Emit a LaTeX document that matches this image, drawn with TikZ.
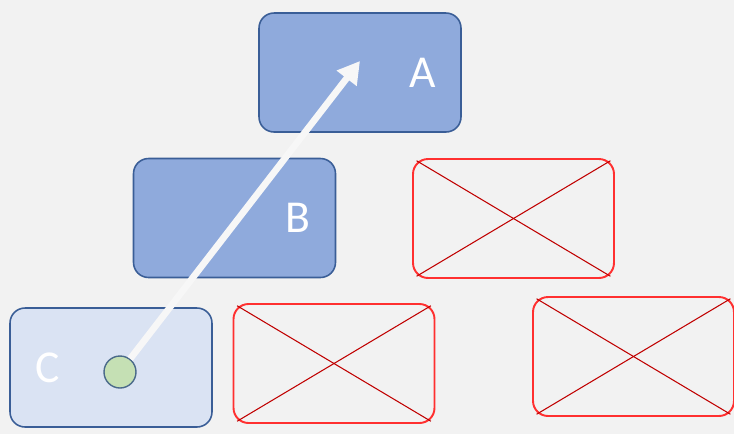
\documentclass[tikz,border=0pt]{standalone}
\usepackage{fontspec}
\setmainfont{Carlito}
\usepackage{tikz}
\usetikzlibrary{arrows.meta}
\usetikzlibrary{positioning}
\definecolor{fond}{HTML}{F2F2F2}
\definecolor{bleu}{HTML}{8FAADC}
\definecolor{bleuclair}{HTML}{DAE3F3}
\definecolor{bord}{HTML}{3A5E97}
\definecolor{vert}{HTML}{C5E0B4}
\definecolor{bordvert}{HTML}{4A6A8A}
\definecolor{rouge}{HTML}{FF3030}
\definecolor{rougefonce}{HTML}{C00000}
\definecolor{blanc}{HTML}{F7F7F7}
\tikzstyle{boite}=[
        draw=bord,
        line width=0.9pt,
        rectangle,
        rounded corners=0.3cm,
        minimum width=4.04cm,
        minimum height=2.38cm,
        fill=bleu
]
\tikzstyle{boiteclaire}=[boite,fill=bleuclair]
\tikzstyle{vide}=[
        draw=rouge,
        line width=1.1pt,
        rectangle,
        rounded corners=0.3cm,
        minimum width=4.02cm,
        minimum height=2.38cm
]
\tikzstyle{croix}=[draw=rougefonce,line width=0.6pt,shorten >=3pt,shorten <=3pt]
\tikzstyle{lettre}=[text=white,font=\fontsize{26}{30}\selectfont,inner sep=0pt]
\tikzstyle{point}=[circle,draw=bordvert,line width=0.8pt,fill=vert,minimum size=0.64cm,inner sep=0pt]
\tikzstyle{fleche}=[-{Triangle[width=24pt*0.567,length=22pt*0.567]},blanc,line width=3.8pt]

\begin{document}
\begin{tikzpicture}[x=0.02cm,y=-0.02cm]
\fill[fond] (0,0) rectangle (734,434);
\useasboundingbox (0,0) rectangle (734,434);
\node[boite] (A) at (360,72.5) {};
\node[boite] (B) at (234.5,218) {};
\node[boiteclaire] (C) at (111,367.5) {};
\node[vide] (v1) at (513.5,218.5) {};
\node[vide] (v2) at (334,363.5) {};
\node[vide] (v3) at (633.5,356.5) {};
\node[lettre] (lA) at (423,73) {A};
\node[lettre] (lB) at (298,218) {B};
\node[lettre] (lC) at (48,368) {C};
%croix
\foreach \v in {v1,v2,v3}{
  \draw[croix] (\v.north west) -- (\v.south east);
  \draw[croix] (\v.north east) -- (\v.south west);
}
%fleche
\coordinate (pointe) at (360,61);
\node[point] (dot) at (120,372) {};
\draw[fleche] (dot) -- (pointe);
\end{tikzpicture}
\end{document}
